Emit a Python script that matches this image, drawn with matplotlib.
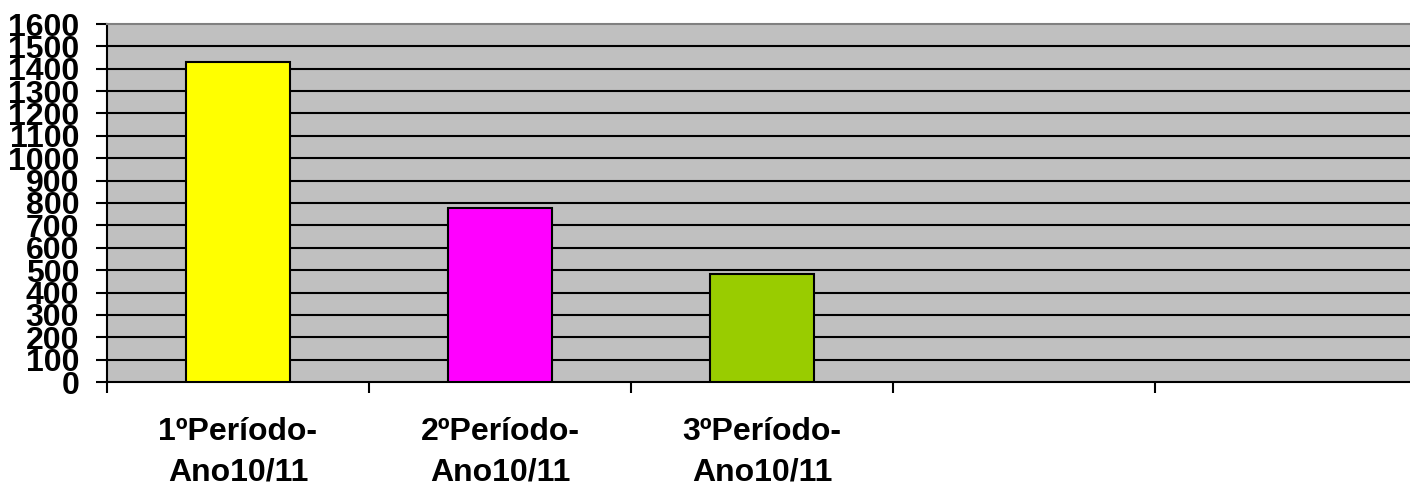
import matplotlib.pyplot as plt
import numpy as np

categorias = ["1ºPeríodo-\nAno10/11", "2ºPeríodo-\nAno10/11", "3ºPeríodo-\nAno10/11", "", ""]
valores = [1430, 776, 481]
cores = ["#FFFF00", "#FF00FF", "#99CC00"]
y_ticks = list(range(0, 1700, 100))

plt.rcParams['font.family'] = ['Liberation Sans', 'DejaVu Sans']
plt.rcParams['font.weight'] = 'bold'

W, H = 1410, 486
fig = plt.figure(figsize=(W / 100, H / 100), dpi=100)
ax = fig.add_axes([107 / W, (H - 382) / H, (1417 - 107) / W, (382 - 24) / H])
ax.set_facecolor("#C0C0C0")

x = np.arange(len(categorias))
ax.bar(x[:len(valores)], valores, width=0.4, color=cores, edgecolor="black", linewidth=1.5, zorder=3)

ax.set_xlim(-0.5, len(categorias) - 0.5)
ax.set_ylim(0, 1600)
ax.set_yticks(y_ticks)
ax.set_yticklabels([str(v) for v in y_ticks], fontsize=23, fontweight='bold')
for v in y_ticks[1:-1]:
    ax.axhline(v, color="black", linewidth=1.5, zorder=1)

ax.set_xticks(x)
ax.set_xticklabels(categorias, fontsize=23, fontweight='bold', linespacing=1.45)
ax.set_xticks(np.arange(-0.5, len(categorias), 1), minor=True)
ax.tick_params(axis='x', which='major', length=0, pad=25)
ax.tick_params(axis='x', which='minor', length=8, width=1.5, color="black")
ax.tick_params(axis='y', length=8, width=1.5, pad=12)

for s in ["left", "bottom"]:
    ax.spines[s].set_linewidth(1.5)
    ax.spines[s].set_color("black")
ax.spines["top"].set_color("#808080")
ax.spines["top"].set_linewidth(1.5)
ax.spines["right"].set_visible(False)

fig.savefig("out.png", dpi=100)
